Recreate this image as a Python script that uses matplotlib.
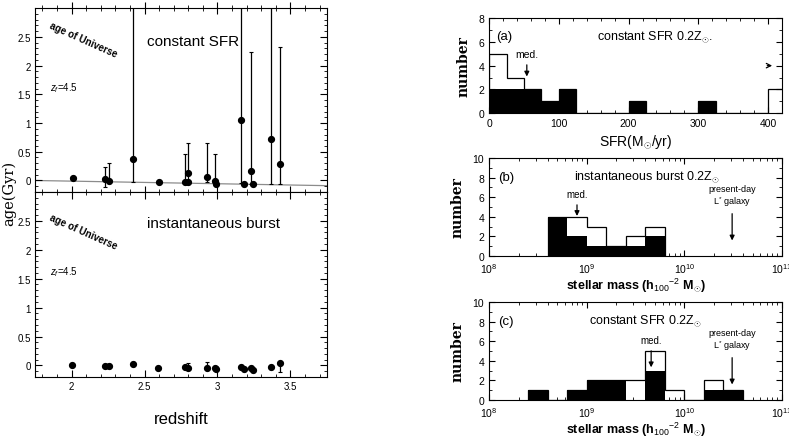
import numpy as np
import matplotlib
matplotlib.use("Agg")
import matplotlib.pyplot as plt
from matplotlib.ticker import MultipleLocator, FixedLocator, NullFormatter

plt.rcParams['font.family'] = ['Liberation Sans', 'DejaVu Sans']
plt.rcParams['mathtext.fontset'] = 'custom'
plt.rcParams['mathtext.rm'] = 'Liberation Sans'
plt.rcParams['mathtext.it'] = 'Liberation Sans:italic'

# ---- left: age vs redshift ----
# constant SFR
csfr_z = [2.01, 2.23, 2.26, 2.42, 2.60, 2.78, 2.80, 2.80, 2.93, 2.98, 2.99, 3.16, 3.18, 3.23, 3.24, 3.37, 3.43]
csfr_age = [0.04, 0.02, -0.01, 0.37, -0.03, -0.03, 0.13, -0.03, 0.06, -0.01, -0.06, 1.06, -0.06, 0.16, -0.06, 0.73, 0.29]
csfr_hi = [0.04, 0.23, 0.30, 3.5, -0.03, 0.46, 0.66, -0.03, 0.66, 0.46, -0.06, 3.5, -0.06, 2.23, -0.06, 3.5, 2.33]
csfr_lo = [0.04, -0.11, -0.01, -0.02, -0.03, -0.03, -0.03, -0.03, -0.02, -0.01, -0.06, -0.05, -0.06, -0.06, -0.06, -0.06, -0.06]
zf_line_z = [1.75, 3.75]
zf_line_age = [0.0, -0.09]

# instantaneous burst
burst_z = [2.00, 2.23, 2.26, 2.42, 2.59, 2.78, 2.80, 2.93, 2.98, 2.99, 3.16, 3.18, 3.23, 3.24, 3.37, 3.43]
burst_age = [0.0, -0.01, -0.01, 0.03, -0.05, -0.03, -0.05, -0.05, -0.05, -0.06, -0.02, -0.07, -0.05, -0.08, -0.03, 0.05]
burst_hi = [0.0, -0.01, -0.01, 0.06, -0.05, -0.03, 0.04, 0.06, -0.05, -0.06, -0.02, -0.07, -0.05, -0.08, -0.03, 0.05]
burst_lo = [0.0, -0.01, -0.01, 0.0, -0.05, -0.03, -0.05, -0.05, -0.05, -0.06, -0.02, -0.07, -0.05, -0.08, -0.03, -0.12]

# ---- right: histograms ----
sfr_edges = [0, 25, 50, 75, 100, 125, 150, 175, 200, 225, 250, 275, 300, 325, 350, 375, 400, 425]
sfr_all = [5, 3, 2, 1, 2, 0, 0, 0, 1, 0, 0, 0, 1, 0, 0, 0, 2]
sfr_sub = [2, 2, 2, 1, 2, 0, 0, 0, 1, 0, 0, 0, 1, 0, 0, 0, 0]
sfr_median = 54

burst_logm_edges = [8.6, 8.8, 9.0, 9.2, 9.4, 9.6, 9.8]
burst_all = [4, 4, 3, 1, 2, 3]
burst_sub = [4, 2, 1, 1, 1, 2]
burst_median_logm = 8.9

const_logm_edges = [8.4, 8.6, 8.8, 9.0, 9.2, 9.4, 9.6, 9.8, 10.0, 10.2, 10.4, 10.6]
const_all = [1, 0, 1, 2, 2, 2, 5, 1, 0, 2, 1]
const_sub = [1, 0, 1, 2, 2, 0, 3, 0, 0, 1, 1]
const_median_logm = 9.66

lstar_logm = 10.49

fig = plt.figure(figsize=(7.89, 4.39), dpi=100)

ax_top = fig.add_axes([0.0444, 0.5604, 0.370, 0.419])
ax_bot = fig.add_axes([0.0444, 0.139, 0.370, 0.4214])


def err_panel(ax, z, age, hi, lo, uni_y, zf_y):
    z = np.array(z)
    age = np.array(age)
    yerr = [age - np.array(lo), np.array(hi) - age]
    ax.errorbar(z, age, yerr=yerr, fmt='o', color='black', ms=4.2, elinewidth=0.9,
                capsize=1.2, capthick=0.8)
    ax.set_xlim(1.75, 3.75)
    ax.set_ylim(-0.2, 3.0)
    ax.xaxis.set_major_locator(MultipleLocator(0.5))
    ax.xaxis.set_minor_locator(MultipleLocator(0.1))
    ax.yaxis.set_major_locator(FixedLocator([0, 0.5, 1, 1.5, 2, 2.5]))
    ax.yaxis.set_minor_locator(MultipleLocator(0.1))
    ax.tick_params(which='both', direction='in', top=True, right=True, labelsize=7, pad=3)
    ax.tick_params(which='major', length=5)
    ax.tick_params(which='minor', length=2.5)
    ax.set_yticklabels(['0', '0.5', '1', '1.5', '2', '2.5'])
    ax.text(0.05, uni_y, 'age of Universe', transform=ax.transAxes, rotation=-24,
            fontsize=7, fontweight='bold', va='center', ha='left', rotation_mode='anchor')
    ax.text(0.05, zf_y, '$z_f$=4.5', transform=ax.transAxes, fontsize=7, va='center')


err_panel(ax_top, csfr_z, csfr_age, csfr_hi, csfr_lo, 0.91, 0.57)
ax_top.plot(zf_line_z, zf_line_age, color='0.55', lw=0.9, zorder=1)
ax_top.tick_params(axis='x', which='both', bottom=True, direction='inout', labelbottom=False)
ax_top.tick_params(axis='x', which='major', length=8)
ax_top.tick_params(axis='x', which='minor', length=5)
ax_top.text(0.385, 0.82, 'constant SFR', transform=ax_top.transAxes, fontsize=11, va='center')

err_panel(ax_bot, burst_z, burst_age, burst_hi, burst_lo, 0.87, 0.57)
ax_bot.set_xticklabels(['', '2', '2.5', '3', '3.5'])
ax_bot.text(0.385, 0.83, 'instantaneous burst', transform=ax_bot.transAxes, fontsize=11, va='center')
ax_bot.set_xlabel('redshift', fontsize=12, labelpad=14)
fig.text(0.011, 0.56, 'age(Gyr)', rotation=90, fontsize=10.5, va='center', ha='center',
         family=['DejaVu Serif'])

# ---- right panels ----
ax_a = fig.add_axes([0.620, 0.740, 0.371, 0.2164])
ax_b = fig.add_axes([0.620, 0.4146, 0.371, 0.2232])
ax_c = fig.add_axes([0.620, 0.0866, 0.371, 0.2232])


def style_hist(ax):
    ax.tick_params(which='both', direction='in', top=True, right=True, labelsize=7.5)
    ax.tick_params(which='major', length=4)
    ax.tick_params(which='minor', length=2)
    ax.set_ylabel('number', fontsize=10, family=['DejaVu Serif'], fontweight='bold', labelpad=6)


ax_a.stairs(sfr_sub, sfr_edges, fill=True, color='black', lw=0)
ax_a.stairs(sfr_all, sfr_edges, color='black', lw=0.9)
ax_a.set_xlim(0, 420)
ax_a.set_ylim(0, 8)
ax_a.xaxis.set_major_locator(MultipleLocator(100))
ax_a.xaxis.set_minor_locator(MultipleLocator(20))
ax_a.yaxis.set_major_locator(MultipleLocator(2))
ax_a.yaxis.set_minor_locator(MultipleLocator(1))
style_hist(ax_a)
ax_a.set_xlabel(r'SFR(M$_{\odot}$/yr)', fontsize=10, labelpad=3)
ax_a.text(0.025, 0.78, '(a)', transform=ax_a.transAxes, fontsize=9.5)
ax_a.text(0.37, 0.78, r'constant SFR 0.2Z$_{\odot}$.', transform=ax_a.transAxes, fontsize=9)
ax_a.annotate('', xy=(sfr_median, 2.85), xytext=(sfr_median, 4.3),
              arrowprops=dict(arrowstyle='-|>', color='black', lw=0.9, mutation_scale=7))
ax_a.text(sfr_median, 4.6, 'med.', ha='center', va='bottom', fontsize=7.5)
ax_a.annotate('', xy=(410, 4.0), xytext=(395, 4.0),
              arrowprops=dict(arrowstyle='->', color='black', lw=0.9, mutation_scale=8))


def mass_panel(ax, edges, all_counts, sub_counts, med, label, title, title_x,
               med_top, med_tip):
    e = 10 ** np.array(edges)
    ax.stairs(sub_counts, e, fill=True, color='black', lw=0)
    ax.stairs(all_counts, e, color='black', lw=0.9)
    ax.set_xscale('log')
    ax.set_xlim(1e8, 1e11)
    ax.set_ylim(0, 10)
    ax.yaxis.set_major_locator(MultipleLocator(2))
    ax.yaxis.set_minor_locator(MultipleLocator(1))
    ax.xaxis.set_minor_formatter(NullFormatter())
    style_hist(ax)
    ax.set_xlabel(r'stellar mass (h$_{100}$$^{-2}$ M$_{\odot}$)', fontsize=9, labelpad=1,
                  fontweight='bold')
    ax.text(0.03, 0.78, label, transform=ax.transAxes, fontsize=9.5)
    ax.text(title_x, 0.78, title, transform=ax.transAxes, fontsize=9)
    m = 10 ** med
    ax.annotate('', xy=(m, med_tip), xytext=(m, med_top),
                arrowprops=dict(arrowstyle='-|>', color='black', lw=0.9, mutation_scale=7))
    ax.text(m, med_top + 0.3, 'med.', ha='center', va='bottom', fontsize=7)
    ls = 10 ** lstar_logm
    ax.annotate('', xy=(ls, 1.3), xytext=(ls, 4.6),
                arrowprops=dict(arrowstyle='-|>', color='black', lw=0.9, mutation_scale=7))
    ax.text(ls, 4.9, 'present-day\nL$^{*}$ galaxy', ha='center', va='bottom', fontsize=6.5,
            linespacing=1.1)


mass_panel(ax_b, burst_logm_edges, burst_all, burst_sub, burst_median_logm, '(b)',
           r'instantaneous burst 0.2Z$_{\odot}$', 0.29, 5.5, 3.8)
mass_panel(ax_c, const_logm_edges, const_all, const_sub, const_median_logm, '(c)',
           r'constant SFR 0.2Z$_{\odot}$', 0.34, 5.3, 3.05)

fig.savefig('out.png', dpi=100)
